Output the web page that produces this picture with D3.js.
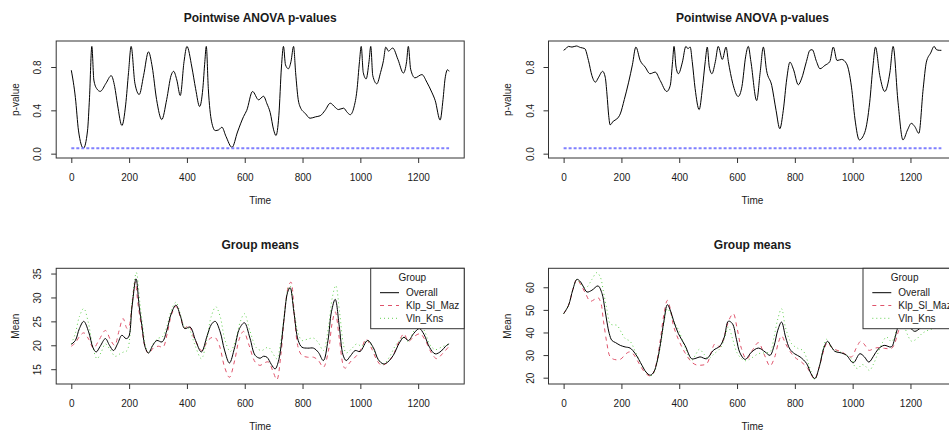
<!DOCTYPE html>
<html>
<head>
<meta charset="utf-8">
<script src="https://cdn.jsdelivr.net/npm/d3@7"></script>
<style>
  body { margin: 0; background: #fff; }
  svg { display: block; }
  text { font-family: "Liberation Sans", Arial, sans-serif; fill: #1a1a1a; }
</style>
</head>
<body>
<svg id="chart" width="949" height="431"></svg>
<script>
// ---------------- data ----------------
const timeTicks = [0, 200, 400, 600, 800, 1000, 1200];
const pTicks = [0.0, 0.4, 0.8];
const meanTicksA = [15, 20, 25, 30, 35];
const meanTicksB = [20, 30, 40, 50, 60];
const groupNames = ["Overall", "Klp_Sl_Maz", "Vln_Kns"];
const alphaLevel = 0.05;
const panelTitles = ["Pointwise ANOVA p-values", "Group means"];

// pointwise ANOVA p-values, [time, p]
const pvalA = [[0,0.77],[14,0.52],[25,0.21],[42,0.05],[56,0.21],[63,0.52],[71,0.99],[78,0.68],[88,0.6],[100,0.575],[120,0.65],[138,0.72],[150,0.62],[160,0.45],[175,0.26],[188,0.45],[198,0.75],[207,0.99],[220,0.65],[235,0.546],[250,0.72],[267,0.94],[280,0.8],[295,0.5],[313,0.315],[330,0.5],[345,0.72],[354,0.76],[365,0.68],[377,0.537],[390,0.85],[400,0.99],[417,0.8],[430,0.6],[444,0.435],[455,0.6],[462,0.85],[467,0.99],[474,0.6],[485,0.3],[498,0.213],[510,0.22],[521,0.244],[535,0.16],[556,0.058],[575,0.2],[596,0.343],[607,0.4],[627,0.574],[648,0.497],[665,0.53],[677,0.46],[688,0.38],[700,0.22],[708,0.167],[718,0.35],[727,0.8],[734,0.99],[741,0.82],[751,0.784],[760,0.85],[769,0.99],[776,0.75],[785,0.5],[792,0.43],[810,0.37],[826,0.327],[845,0.34],[861,0.35],[878,0.4],[896,0.466],[912,0.43],[924,0.407],[942,0.42],[955,0.38],[965,0.36],[978,0.43],[988,0.58],[997,0.85],[1003,0.99],[1010,0.75],[1020,0.69],[1030,0.85],[1036,0.99],[1043,0.72],[1057,0.645],[1070,0.75],[1080,0.86],[1088,0.984],[1097,0.947],[1112,0.975],[1130,0.87],[1149,0.744],[1160,0.85],[1166,0.99],[1174,0.78],[1189,0.7],[1213,0.73],[1230,0.66],[1247,0.568],[1259,0.49],[1276,0.31],[1286,0.5],[1293,0.69],[1302,0.775],[1307,0.76]];

const pvalB = [[0,0.954],[8,0.97],[17,0.99],[29,0.984],[44,0.994],[58,0.98],[73,0.97],[86,0.86],[98,0.72],[110,0.66],[120,0.7],[135,0.76],[144,0.706],[150,0.55],[156,0.35],[161,0.266],[172,0.3],[184,0.32],[196,0.367],[210,0.5],[225,0.66],[238,0.82],[250,0.984],[265,0.86],[282,0.8],[299,0.738],[317,0.753],[334,0.676],[357,0.574],[369,0.63],[377,0.85],[382,0.99],[389,0.8],[397,0.738],[411,0.845],[423,0.99],[430,0.97],[438,0.984],[445,0.85],[455,0.6],[469,0.407],[480,0.6],[490,0.85],[497,0.984],[504,0.8],[513,0.738],[525,0.85],[535,0.99],[549,0.87],[562,0.984],[570,0.85],[585,0.65],[604,0.528],[617,0.62],[630,0.9],[639,0.99],[648,0.85],[668,0.49],[680,0.75],[691,0.984],[702,0.77],[720,0.63],[735,0.4],[748,0.23],[760,0.4],[772,0.69],[783,0.845],[795,0.78],[812,0.636],[823,0.69],[840,0.85],[852,0.954],[860,0.96],[875,0.85],[887,0.784],[904,0.815],[921,0.85],[933,0.984],[946,0.86],[962,0.87],[979,0.83],[996,0.614],[1008,0.32],[1023,0.127],[1042,0.197],[1059,0.475],[1070,0.8],[1079,0.984],[1094,0.72],[1111,0.574],[1129,0.753],[1140,0.99],[1157,0.475],[1174,0.127],[1190,0.22],[1203,0.28],[1215,0.25],[1229,0.188],[1244,0.6],[1255,0.845],[1270,0.93],[1282,0.99],[1290,0.96],[1300,0.954],[1307,0.954]];

// group means, [time, mean]
const overallA = [[0,20.2],[14,21.0],[28,23.5],[43,25.0],[60,22.8],[75,19.5],[86,18.6],[100,19.8],[118,21.4],[132,20.0],[146,18.9],[160,20.3],[175,22.1],[189,21.4],[198,21.7],[210,28.0],[224,33.9],[235,28],[244,24.2],[256,19.5],[267,18.37],[282,20],[296,21.0],[314,20.7],[330,23],[345,26.5],[362,28.4],[378,26],[392,23.5],[411,23.8],[430,21],[450,18.6],[470,22],[485,24.4],[498,25.0],[515,22.8],[530,19],[547,16.3],[565,19.5],[582,23.5],[599,24.7],[618,21.5],[636,17.9],[653,17.3],[665,17.7],[677,17.5],[692,16],[705,15.06],[718,17],[735,25],[748,31],[757,32.05],[770,27],[785,21],[798,19.6],[818,19.4],[838,19.4],[855,18.5],[872,16.8],[888,21],[900,27],[913,29.6],[927,24],[940,18],[951,16.8],[966,17.8],[982,18.9],[999,18.7],[1025,21.0],[1045,19.5],[1062,17],[1080,16.1],[1095,16.5],[1114,17.9],[1135,20.5],[1151,21.7],[1166,21.0],[1185,22.5],[1204,23.5],[1220,22.3],[1240,19.5],[1259,18.2],[1280,18.8],[1295,19.8],[1307,20.3]];
const klpA = [[0,19.8],[14,20.5],[28,21.8],[43,22.6],[60,21.3],[77,19.4],[95,21],[118,23.1],[135,21.2],[150,20.0],[165,23],[179,25.6],[193,23.5],[200,24],[210,28.5],[221,33.2],[232,28],[244,23.5],[256,19.5],[267,18.3],[285,19.5],[302,19.8],[317,19.6],[332,22.5],[347,26.5],[362,28.1],[378,25.8],[392,23.6],[406,24.2],[425,21.5],[452,18.9],[470,20.8],[482,21.5],[496,21.7],[512,20],[530,15.5],[547,13.3],[565,16.8],[582,21.5],[596,22.9],[615,20],[636,16.5],[653,15.8],[667,16.3],[682,16.5],[698,14.5],[711,12.8],[725,18],[740,28],[752,32.5],[760,33.2],[772,26],[785,19.5],[798,17.9],[818,17.5],[838,17.5],[855,16.8],[872,15.4],[890,19],[902,24.5],[913,27.0],[927,21.5],[940,16],[947,15.2],[965,16.5],[988,17.9],[1005,19.5],[1020,21.3],[1040,19.2],[1058,16.8],[1074,15.8],[1095,16.5],[1114,18],[1135,21],[1151,22.4],[1166,20.8],[1185,21.8],[1207,22.4],[1225,21],[1245,18.5],[1264,17.2],[1285,18.3],[1307,19.8]];
const vlnA = [[0,20.3],[14,22.5],[28,26],[43,27.7],[58,25],[75,19.5],[89,17.2],[103,18.5],[118,20.3],[135,19],[152,17.7],[168,18.2],[181,18.6],[193,18.9],[210,29],[225,35.2],[237,29],[248,23.5],[258,19.5],[267,18.4],[285,20.5],[302,21.5],[314,21.7],[330,23.8],[346,27.3],[362,29.0],[378,26.3],[392,23.8],[406,23.5],[428,20],[450,17.2],[468,21],[484,26],[500,28.05],[515,26],[532,21],[550,18.7],[568,21],[585,25],[599,26.6],[618,23],[640,19.5],[659,18.9],[670,19.3],[682,19.6],[698,18.2],[711,17.2],[725,21],[740,28],[750,31.8],[757,32.4],[770,27.5],[785,22.5],[798,21.0],[818,21.3],[838,21.5],[855,20.5],[872,18.9],[890,24],[903,30],[915,32.5],[928,27],[942,20],[951,18.4],[970,19.3],[988,20.3],[1004,19.8],[1025,21.0],[1045,19.2],[1062,17],[1080,16.1],[1100,17.5],[1120,19.8],[1135,21],[1149,21.7],[1166,20.8],[1185,23],[1204,24.7],[1222,23],[1240,20.2],[1259,19.1],[1280,19.6],[1295,20],[1307,20.3]];

const overallB = [[0,48.3],[17,52.0],[32,59],[46,63.5],[58,62.5],[69,60.1],[81,57.9],[98,58.7],[119,60.6],[133,57.2],[142,51],[150,44.6],[158,39.5],[167,36.5],[180,35.5],[196,34.3],[213,33.6],[230,33.1],[248,30.6],[271,25.5],[285,22.5],[300,21.1],[312,22.5],[323,26.9],[335,35],[347,45],[359,52.3],[370,49.5],[380,45.4],[397,39.5],[420,34.3],[443,28.4],[458,28.6],[472,29.2],[495,28.4],[518,32.1],[541,34.0],[556,38],[570,45.0],[584,43.9],[598,37],[610,31],[628,28.1],[650,31.3],[674,33.1],[697,31.4],[714,29.9],[728,34],[741,41],[754,44.6],[768,38],[783,32.6],[800,30.5],[818,29.2],[841,26.2],[855,22],[869,19.6],[885,25],[900,33],[913,36.1],[925,34],[938,31.7],[962,30.9],[979,29.9],[1002,26.6],[1025,30.6],[1040,29.3],[1056,26.9],[1072,29.5],[1088,32.6],[1109,34.3],[1134,33.6],[1145,37],[1157,42.4],[1170,45],[1185,44.5],[1200,42],[1215,40.5],[1235,42],[1260,44],[1285,45.5],[1307,45]];
const klpB = [[0,48.3],[17,52.0],[32,59],[46,63.5],[60,61],[75,57.5],[92,53.8],[105,54.5],[118,55.5],[128,53.5],[138,45],[150,35],[160,29.5],[172,28.2],[196,28.1],[215,30.5],[228,31.4],[240,30.6],[260,26.5],[280,22.5],[300,20.7],[312,22.5],[323,27.5],[335,37],[347,48],[359,54.2],[370,50],[380,43],[397,37.0],[420,31],[443,26.9],[460,25.6],[472,25.5],[495,26.2],[510,31],[524,35.0],[541,33.6],[556,38.5],[572,45.5],[587,48.3],[600,42],[615,33],[633,28.2],[655,32.5],[674,35.5],[695,30],[714,25.2],[730,29],[743,35.5],[754,38.5],[768,35],[789,30.6],[805,28.5],[823,26.9],[845,24],[858,21],[869,19.3],[885,25],[900,32],[913,35.5],[930,33],[962,31.4],[996,29.2],[1012,33],[1028,36.1],[1042,34.5],[1056,32.1],[1075,33],[1088,33.3],[1110,33],[1134,32.9],[1145,35],[1157,40],[1172,45],[1190,46.5],[1215,44],[1240,45],[1265,47],[1290,46.5],[1307,46]];
const vlnB = [[0,48.3],[17,52.0],[32,59],[46,63.5],[60,61.5],[72,59.8],[81,60.1],[98,63.5],[115,66.5],[127,64.5],[138,58],[150,50],[161,43.9],[172,43.3],[184,43.2],[200,40],[213,37.3],[230,36.1],[250,31],[271,25.5],[288,22],[300,20.8],[312,22],[323,26.5],[335,34],[347,44],[359,50.5],[370,48.5],[380,45],[397,41.3],[420,33.5],[443,27.7],[458,30.5],[470,32.6],[485,30.5],[501,28.4],[520,30.5],[541,32.9],[556,37],[570,42.4],[585,37],[600,31],[616,28.4],[630,27.5],[650,28.7],[674,30.6],[694,31],[714,31.4],[728,38],[741,46],[754,50.5],[768,42],[789,35.0],[810,33],[828,32.0],[845,27],[858,22],[869,19.1],[885,25],[898,33],[910,37.0],[925,33.5],[940,32],[962,31.1],[980,29.8],[996,28.4],[1008,24.8],[1018,24],[1032,25.8],[1045,25],[1058,23.2],[1072,26],[1088,31.0],[1103,35.5],[1117,38.0],[1134,36],[1145,38],[1157,43],[1172,44],[1190,39],[1203,36.2],[1220,37],[1240,39.5],[1261,41.0],[1285,41.8],[1307,42]];

// ---------------- layout ----------------
const svg = d3.select("#chart");
const colOffset = [0, 492.3];
const box = { left: 56.2, right: 464.2 };
const rows = [{ top: 41, bottom: 158 }, { top: 268.3, bottom: 384 }];
const seriesStyle = [
  { color: "#000000", dash: null },
  { color: "#DF536B", dash: "4,4" },
  { color: "#61D04F", dash: "1,3" }
];
const axisColor = "#333";
const fontStack = '"Liberation Sans", Arial, sans-serif';

const pad = e => { const d = e[1] - e[0]; return [e[0] - 0.04 * d, e[1] + 0.04 * d]; };
const allSeries = [pvalA, pvalB, overallA, klpA, vlnA, overallB, klpB, vlnB];
const tMax = d3.max(allSeries, s => d3.max(s, d => d[0]));

const panels = [
  { col: 0, row: 0, kind: "p", series: [pvalA], ticks: pTicks },
  { col: 1, row: 0, kind: "p", series: [pvalB], ticks: pTicks },
  { col: 0, row: 1, kind: "m", series: [overallA, klpA, vlnA], ticks: meanTicksA },
  { col: 1, row: 1, kind: "m", series: [overallB, klpB, vlnB], ticks: meanTicksB }
];

panels.forEach((p, i) => {
  const r = rows[p.row];
  const g = svg.append("g").attr("transform", `translate(${colOffset[p.col]},0)`);
  const x = d3.scaleLinear().domain(pad([0, tMax])).range([box.left, box.right]);
  const yDomain = p.kind === "p"
    ? pad([0, 1])
    : pad(d3.extent(p.series.flat(), d => d[1]));
  const y = d3.scaleLinear().domain(yDomain).range([r.bottom, r.top]);

  const clipId = "clip" + i;
  g.append("clipPath").attr("id", clipId).append("rect")
    .attr("x", box.left).attr("y", r.top)
    .attr("width", box.right - box.left).attr("height", r.bottom - r.top);
  const plot = g.append("g").attr("clip-path", `url(#${clipId})`);

  const line = d3.line()
    .x(d => x(d[0])).y(d => y(d[1]))
    .curve(p.kind === "p" ? d3.curveMonotoneX : d3.curveCatmullRom.alpha(0.5));

  if (p.kind === "p") {
    plot.append("path")
      .datum(p.series[0])
      .attr("d", line)
      .attr("fill", "none").attr("stroke", "#000").attr("stroke-width", 1);
    plot.append("line")
      .attr("x1", x(0)).attr("x2", x(tMax))
      .attr("y1", y(alphaLevel)).attr("y2", y(alphaLevel))
      .attr("stroke", "#8080ff").attr("stroke-width", 2)
      .attr("stroke-dasharray", "3,2");
  } else {
    // group curves first, overall on top
    [1, 2, 0].forEach(k => {
      plot.append("path")
        .datum(p.series[k])
        .attr("d", line)
        .attr("fill", "none")
        .attr("stroke", seriesStyle[k].color)
        .attr("stroke-width", 1)
        .attr("stroke-dasharray", seriesStyle[k].dash);
    });
  }

  // x axis
  const xa = g.append("g").attr("transform", `translate(0,${r.bottom})`)
    .call(d3.axisBottom(x).tickValues(timeTicks).tickFormat(d3.format("d"))
      .tickSize(5).tickPadding(10.4));
  xa.select(".domain").remove();
  xa.selectAll("line").attr("stroke", axisColor);
  xa.selectAll("text").attr("font-size", 10).attr("fill", "#1a1a1a")
    .style("font-family", fontStack);

  // y axis, labels parallel to the axis
  const fmt = p.kind === "p" ? d3.format(".1f") : d3.format("d");
  const ya = g.append("g").attr("transform", `translate(${box.left},0)`)
    .call(d3.axisLeft(y).tickValues(p.ticks).tickSize(5).tickFormat(fmt));
  ya.select(".domain").remove();
  ya.selectAll("line").attr("stroke", axisColor);
  ya.selectAll("text")
    .attr("x", 0).attr("y", -15).attr("dy", null)
    .attr("transform", "rotate(-90)")
    .attr("text-anchor", "middle")
    .attr("font-size", 10).attr("fill", "#1a1a1a")
    .style("font-family", fontStack);

  // plot frame
  g.append("rect")
    .attr("x", box.left).attr("y", r.top)
    .attr("width", box.right - box.left).attr("height", r.bottom - r.top)
    .attr("fill", "none").attr("stroke", axisColor).attr("stroke-width", 1);

  // titles
  g.append("text")
    .attr("x", (box.left + box.right) / 2).attr("y", r.top - 19.5)
    .attr("text-anchor", "middle").attr("font-size", 12).attr("font-weight", "bold")
    .attr("fill", "#000")
    .text(panelTitles[p.row]);
  g.append("text")
    .attr("x", (box.left + box.right) / 2).attr("y", r.bottom + 45.5)
    .attr("text-anchor", "middle").attr("font-size", 10)
    .text("Time");
  const yc = (r.top + r.bottom) / 2;
  g.append("text")
    .attr("transform", `translate(18.5,${yc}) rotate(-90)`)
    .attr("text-anchor", "middle").attr("font-size", 10)
    .text(p.kind === "p" ? "p-value" : "Mean");

  // legend
  if (p.kind === "m") {
    const lg = g.append("g");
    const lx = 370.7, ly = r.top, lw = box.right - lx, lh = 60.4;
    lg.append("rect").attr("x", lx).attr("y", ly).attr("width", lw).attr("height", lh)
      .attr("fill", "#fff").attr("stroke", axisColor).attr("stroke-width", 1);
    lg.append("text").attr("x", 412.3).attr("y", ly + 12.8)
      .attr("text-anchor", "middle").attr("font-size", 10).text("Group");
    groupNames.forEach((name, k) => {
      const cy = ly + 24.4 + k * 12.8;
      lg.append("line").attr("x1", 380).attr("x2", 399).attr("y1", cy).attr("y2", cy)
        .attr("stroke", seriesStyle[k].color).attr("stroke-width", 1)
        .attr("stroke-dasharray", seriesStyle[k].dash);
      lg.append("text").attr("x", 406).attr("y", cy + 3.6)
        .attr("font-size", 10).text(name);
    });
  }
});
</script>
</body>
</html>
